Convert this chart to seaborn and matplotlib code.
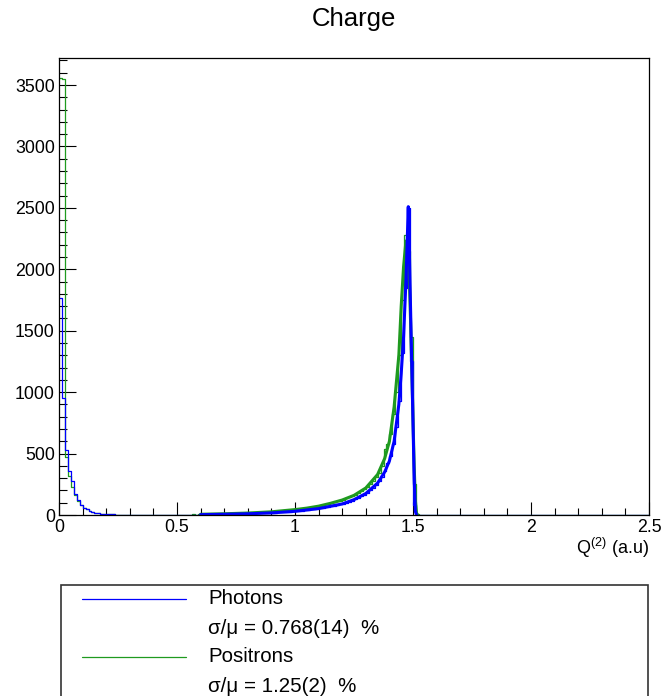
import numpy as np
import pandas as pd
import matplotlib
matplotlib.use("Agg")
import matplotlib.pyplot as plt
from matplotlib.lines import Line2D
from matplotlib.patches import Rectangle
import seaborn as sns

# histogram counts, bins of 0.0125 from 0 to 2.5 (200 bins)
photons_low = [1770, 950, 530, 360, 280, 170, 120, 80, 60, 45, 35, 27, 20, 16, 12, 10,
               8, 6, 5, 4, 3, 3, 2, 2, 1, 2, 1, 1, 0, 1, 1, 0, 1, 1, 1, 0, 1, 1, 2, 1]
photons_mid = [2, 1, 3, 2, 2, 3, 4, 3, 3, 4, 5, 4, 5, 6, 5, 6, 7, 6, 8, 8,
               9, 8, 10, 11, 10, 12, 13, 14, 14, 16, 17, 16, 19, 20, 21, 23, 24, 26, 27, 29]
photons_peak = [31, 34, 36, 40, 43, 46, 49, 53, 56, 60, 64, 68, 73, 77, 82, 87, 93, 100,
                108, 117, 128, 140, 152, 166, 182, 200, 222, 248, 275, 310, 355, 420, 480,
                580, 720, 930, 1320, 1850, 2500, 1250, 80, 2]

positrons_low = [3560, 3550, 470, 320, 230, 160, 115, 82, 60, 45, 34, 26, 20, 15, 12, 10,
                 8, 6, 5, 4, 3, 3, 2, 2, 2, 1, 1, 2, 1, 1, 1, 1, 2, 1, 2, 2, 2, 2, 3, 2]
positrons_mid = [3, 2, 4, 3, 4, 5, 4, 5, 6, 5, 7, 6, 7, 8, 7, 9, 9, 10, 11, 10,
                 12, 13, 14, 15, 16, 17, 18, 20, 21, 23, 25, 26, 28, 31, 33, 35, 37, 39, 41, 44]
positrons_peak = [46, 48, 52, 55, 58, 62, 66, 70, 75, 80, 86, 92, 99, 105, 112, 118, 125, 135,
                  143, 155, 165, 178, 195, 212, 228, 252, 280, 310, 345, 395, 540, 580, 660,
                  820, 1000, 1300, 1750, 2280, 2150, 1450, 250, 5]

# fit curves
photons_fit_x = [0.6, 0.7, 0.8, 0.9, 1.0, 1.1, 1.2, 1.25, 1.3, 1.35, 1.38, 1.4, 1.42, 1.44,
                 1.45, 1.46, 1.47, 1.475, 1.48, 1.485, 1.49, 1.495, 1.5, 1.505, 1.51, 1.515]
photons_fit_y = [3, 6, 10, 17, 30, 52, 90, 125, 175, 260, 350, 440, 600, 900,
                 1150, 1450, 1900, 2200, 2510, 2100, 1650, 1200, 750, 300, 30, 0]
positrons_fit_x = [0.6, 0.7, 0.8, 0.9, 1.0, 1.05, 1.1, 1.15, 1.2, 1.25, 1.3, 1.35, 1.38, 1.4,
                   1.42, 1.44, 1.45, 1.46, 1.47, 1.475, 1.48, 1.485, 1.49, 1.495, 1.5, 1.505,
                   1.51, 1.515, 1.52]
positrons_fit_y = [6, 10, 16, 26, 44, 56, 72, 95, 122, 160, 220, 330, 460, 600,
                   880, 1300, 1700, 2020, 2230, 2200, 2080, 1880, 1560, 1180, 780, 400,
                   120, 15, 0]

legend_labels = ["Photons", "σ/μ = 0.768(14)  %", "Positrons", "σ/μ = 1.25(2)  %"]

n_bins = 200
edges = np.linspace(0, 2.5, n_bins + 1)
centers = (edges[:-1] + edges[1:]) / 2


def pad(*parts):
    vals = np.concatenate([np.asarray(p, dtype=float) for p in parts])
    return np.concatenate([vals, np.zeros(n_bins - len(vals))])


df = pd.DataFrame({"q": centers,
                   "photons": pad(photons_low, photons_mid, photons_peak),
                   "positrons": pad(positrons_low, positrons_mid, positrons_peak)})

sns.set_style("white")
plt.rcParams["font.family"] = ["Liberation Sans", "DejaVu Sans"]
plt.rcParams["mathtext.fontset"] = "custom"
plt.rcParams["mathtext.rm"] = "Liberation Sans"
plt.rcParams["text.color"] = "black"
plt.rcParams["xtick.color"] = "black"
plt.rcParams["ytick.color"] = "black"

BLUE = "#0000ff"
GREEN = "#1f9a1f"

fig = plt.figure(figsize=(6.62, 6.96), dpi=100)
ax = fig.add_axes([59 / 662, 1 - 515 / 696, 590 / 662, 457 / 696])

sns.histplot(data=df, x="q", weights="positrons", bins=n_bins, binrange=(0, 2.5),
             element="step", fill=False, color=GREEN, linewidth=0.9, ax=ax)
sns.histplot(data=df, x="q", weights="photons", bins=n_bins, binrange=(0, 2.5),
             element="step", fill=False, color=BLUE, linewidth=0.9, ax=ax)
sns.lineplot(x=positrons_fit_x, y=positrons_fit_y, color=GREEN, linewidth=2.2, ax=ax)
sns.lineplot(x=photons_fit_x, y=photons_fit_y, color=BLUE, linewidth=2.2, ax=ax)

ax.set_xlim(0, 2.5)
ax.set_ylim(0, 3720)
ax.set_ylabel("")
ax.set_xlabel("")
ax.set_xticks(np.arange(0, 2.51, 0.5))
ax.set_xticklabels(["0", "0.5", "1", "1.5", "2", "2.5"])
ax.set_xticks(np.arange(0, 2.51, 0.1), minor=True)
ax.set_yticks(np.arange(0, 3501, 500))
ax.set_yticks(np.arange(0, 3721, 100), minor=True)
ax.tick_params(axis="both", which="both", direction="in", colors="black",
               labelsize=12.8, top=False, right=False, bottom=True, left=True)
ax.tick_params(axis="x", which="major", length=9.5, width=0.8, pad=3)
ax.tick_params(axis="x", which="minor", length=5, width=0.8)
ax.tick_params(axis="y", which="major", length=12, width=0.8, pad=3)
ax.tick_params(axis="y", which="minor", length=6, width=0.8)
for sp in ax.spines.values():
    sp.set_color("black")
    sp.set_linewidth(0.9)

fig.text(649 / 662, 1 - 548 / 696, r"Q$^{\mathrm{(2)}}$ (a.u)", ha="right", va="center",
         fontsize=13, color="black")
fig.text(354 / 662, 1 - 19 / 696, "Charge", ha="center", va="center", fontsize=18.5,
         color="black")

# legend box (TLegend style)
fig.add_artist(Rectangle((61 / 662, -0.05), 587 / 662, 1 - 585 / 696 + 0.05,
                         transform=fig.transFigure, fill=False, edgecolor="#333333",
                         linewidth=1.2))
rows = [599, 628, 657, 686]
handles = [BLUE, None, GREEN, None]
for yy, lab, col in zip(rows, legend_labels, handles):
    yf = 1 - yy / 696
    if col is not None:
        fig.add_artist(Line2D([82 / 662, 186 / 662], [yf, yf], transform=fig.transFigure,
                              color=col, linewidth=0.9))
    fig.text(208 / 662, yf, lab, ha="left", va="center", fontsize=14.8, color="black")

fig.savefig("out.png", dpi=100)
